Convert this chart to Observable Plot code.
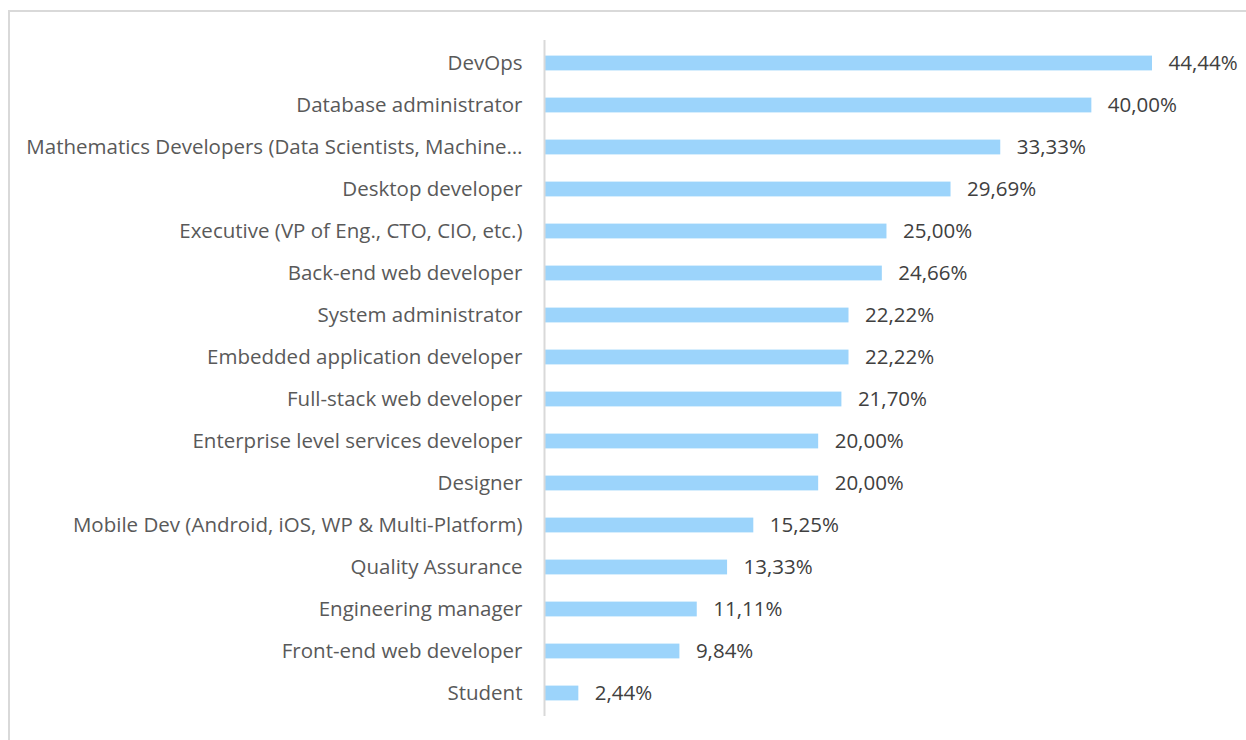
<!DOCTYPE html>
<html>
<head>
<meta charset="utf-8">
<script src="https://cdn.jsdelivr.net/npm/d3@7"></script>
<script src="https://cdn.jsdelivr.net/npm/@observablehq/plot@0.6"></script>
<style>
  html, body { margin: 0; padding: 0; background: #fff; width: 1246px; height: 740px; overflow: hidden; }
  #frame { position: absolute; left: 8px; top: 10px; width: 1250px; height: 760px; border: 2px solid #d9d9d9; box-sizing: border-box; }
  #chart { position: absolute; left: 0; top: 0; }
</style>
</head>
<body>
<div id="frame"></div>
<div id="chart"></div>
<script>
const roles = [
  "DevOps",
  "Database administrator",
  "Mathematics Developers (Data Scientists, Machine…",
  "Desktop developer",
  "Executive (VP of Eng., CTO, CIO, etc.)",
  "Back-end web developer",
  "System administrator",
  "Embedded application developer",
  "Full-stack web developer",
  "Enterprise level services developer",
  "Designer",
  "Mobile Dev (Android, iOS, WP & Multi-Platform)",
  "Quality Assurance",
  "Engineering manager",
  "Front-end web developer",
  "Student"
];
const shares = [44.44, 40.00, 33.33, 29.69, 25.00, 24.66, 22.22, 22.22, 21.70, 20.00, 20.00, 15.25, 13.33, 11.11, 9.84, 2.44];

const data = roles.map((r, i) => ({role: r, value: shares[i]}));
const fmt = v => v.toFixed(2).replace(".", ",") + "%";

const chart = Plot.plot({
  width: 1246,
  height: 740,
  marginLeft: 545,
  marginRight: 94,
  marginTop: 40,
  marginBottom: 24,
  style: {fontFamily: "'Open Sans', sans-serif", fontSize: "20.5px", color: "#404040", background: "transparent"},
  x: {domain: [0, 44.44], axis: null},
  y: {domain: roles, padding: 0, label: null},
  marks: [
    Plot.barX(data, {x: "value", y: "role", fill: "#9cd4fb", insetTop: 13.6, insetBottom: 13.6}),
    Plot.ruleX([0], {stroke: "#d9d9d9", strokeWidth: 2, dx: -1}),
    Plot.text(data, {x: "value", y: "role", text: d => fmt(d.value), textAnchor: "start", dx: 16, fill: "#404040", fontSize: 20.5}),
    Plot.axisY({tickSize: 0, tickPadding: 23, fontSize: 20.5, fill: "#595959", label: null})
  ]
});
document.getElementById("chart").appendChild(chart);
</script>
</body>
</html>
